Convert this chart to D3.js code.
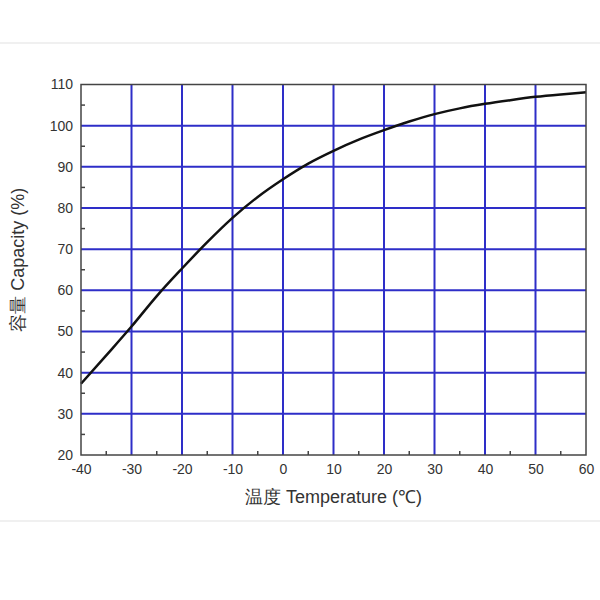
<!DOCTYPE html>
<html>
<head>
<meta charset="utf-8">
<script src="https://cdn.jsdelivr.net/npm/d3@7"></script>
<style>
  body { margin: 0; background: #fff; }
  text { font-family: "Liberation Sans", Arial, sans-serif; fill: #333; }
</style>
</head>
<body>
<svg id="chart" width="600" height="600"></svg>
<script>
// temperature (℃) and capacity (%)
const temps = [-40, -35, -30, -25, -20, -15, -10, -5, 0, 5, 10, 15, 20, 25, 30, 35, 40, 45, 50, 55, 60]
const capacity = [37.3, 44.2, 51.2, 58.6, 65.3, 71.7, 77.6, 82.7, 87.0, 90.8, 93.9, 96.6, 98.9, 101.0, 102.8, 104.2, 105.3, 106.2, 107.0, 107.6, 108.1]
const xTicks = [-40, -30, -20, -10, 0, 10, 20, 30, 40, 50, 60]
const yTicks = [20, 30, 40, 50, 60, 70, 80, 90, 100, 110]
const xMinor = [-35, -25, -15, -5, 5, 15, 25, 35, 45, 55]
const yMinor = [25, 35, 45, 55, 65, 75, 85, 95, 105]

const pLeft = 81, pRight = 586, pTop = 84.5, pBottom = 455

const svg = d3.select('#chart')
const x = d3.scaleLinear().domain([-40, 60]).range([pLeft, pRight])
const y = d3.scaleLinear().domain([20, 110]).range([pBottom, pTop])

// faint photo edges
svg.append('line').attr('x1', 0).attr('x2', 600).attr('y1', 43).attr('y2', 43)
    .attr('stroke', '#f0f0f0').attr('stroke-width', 2)
svg.append('line').attr('x1', 0).attr('x2', 600).attr('y1', 521).attr('y2', 521)
    .attr('stroke', '#f0f0f0').attr('stroke-width', 2)

// grid
const gridColor = '#2e2ec8'
svg.append('g')
    .selectAll('line')
    .data(xTicks.slice(1, -1))
    .enter()
    .append('line')
    .attr('x1', d => x(d)).attr('x2', d => x(d))
    .attr('y1', pTop).attr('y2', pBottom)
    .attr('stroke', gridColor).attr('stroke-width', 2)

svg.append('g')
    .selectAll('line')
    .data(yTicks.slice(1, -1))
    .enter()
    .append('line')
    .attr('y1', d => y(d)).attr('y2', d => y(d))
    .attr('x1', pLeft).attr('x2', pRight)
    .attr('stroke', gridColor).attr('stroke-width', 2)

// minor ticks pointing inward
svg.append('g')
    .selectAll('line')
    .data(xMinor)
    .enter()
    .append('line')
    .attr('x1', d => x(d)).attr('x2', d => x(d))
    .attr('y1', pBottom).attr('y2', pBottom - 4)
    .attr('stroke', '#444').attr('stroke-width', 1.5)

svg.append('g')
    .selectAll('line')
    .data(yMinor)
    .enter()
    .append('line')
    .attr('y1', d => y(d)).attr('y2', d => y(d))
    .attr('x1', pLeft).attr('x2', pLeft + 4)
    .attr('stroke', '#444').attr('stroke-width', 1.5)

// curve
const line = d3.line()
    .x((d, i) => x(temps[i]))
    .y(d => y(d))
    .curve(d3.curveMonotoneX)

svg.append('path')
    .datum(capacity)
    .attr('d', line)
    .attr('fill', 'none')
    .attr('stroke', '#111')
    .attr('stroke-width', 2.5)

// frame
svg.append('rect')
    .attr('x', pLeft).attr('y', pTop)
    .attr('width', pRight - pLeft).attr('height', pBottom - pTop)
    .attr('fill', 'none').attr('stroke', '#444').attr('stroke-width', 1.5)

// axes (labels only)
const xAxis = d3.axisBottom(x).tickValues(xTicks).tickFormat(d => String(d)).tickSize(0).tickPadding(9)
const xg = svg.append('g').attr('transform', `translate(0, ${pBottom})`).call(xAxis)
xg.select('.domain').remove()
xg.selectAll('text').style('font-size', '14px').attr('fill', '#333')

const yAxis = d3.axisLeft(y).tickValues(yTicks).tickFormat(d => String(d)).tickSize(0).tickPadding(8)
const yg = svg.append('g').attr('transform', `translate(${pLeft}, 0)`).call(yAxis)
yg.select('.domain').remove()
yg.selectAll('text').style('font-size', '14px').attr('fill', '#333')

// titles
svg.append('text')
    .attr('x', (pLeft + pRight) / 2).attr('y', 503)
    .attr('text-anchor', 'middle')
    .style('font-size', '18px')
    .text('温度 Temperature (℃)')

svg.append('text')
    .attr('transform', `translate(24, ${(pTop + pBottom) / 2 - 10}) rotate(-90)`)
    .attr('text-anchor', 'middle')
    .style('font-size', '18px')
    .text('容量 Capacity (%)')
</script>
</body>
</html>
